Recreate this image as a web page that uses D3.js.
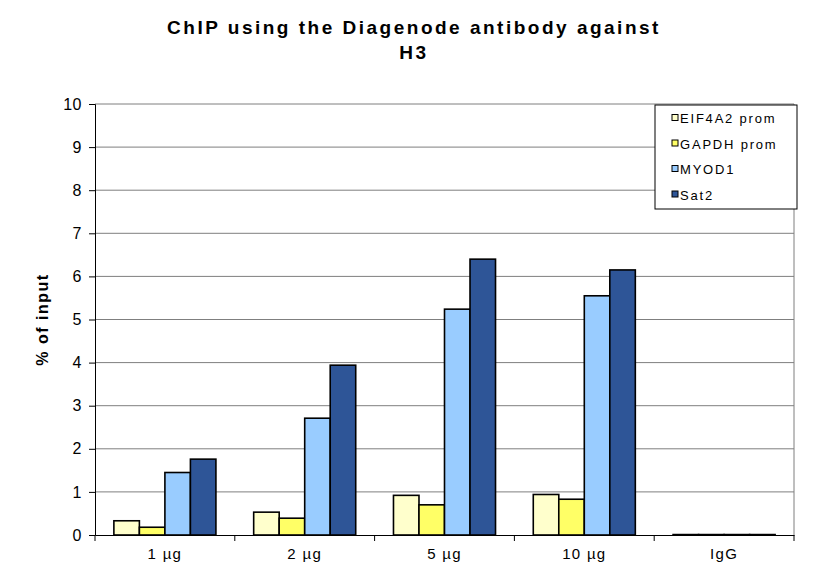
<!DOCTYPE html>
<html>
<head>
<meta charset="utf-8">
<script src="https://cdn.jsdelivr.net/npm/d3@7"></script>
<style>
  body { margin: 0; background: #fff; }
  text { font-family: "Liberation Sans", Arial, sans-serif; }
</style>
</head>
<body>
<div id="chart"></div>
<script>
const categories = ["1 µg", "2 µg", "5 µg", "10 µg", "IgG"];
const seriesNames = ["EIF4A2 prom", "GAPDH prom", "MYOD1", "Sat2"];
const seriesColors = ["#ffffcc", "#ffff66", "#99ccff", "#2e5597"];
const eif4a2 = [0.33, 0.53, 0.92, 0.94, 0.01];
const gapdh = [0.18, 0.39, 0.70, 0.83, 0.01];
const myod1 = [1.45, 2.71, 5.24, 5.55, 0.01];
const sat2 = [1.76, 3.94, 6.40, 6.15, 0.01];
const yTicks = [0, 1, 2, 3, 4, 5, 6, 7, 8, 9, 10];

const values = [eif4a2, gapdh, myod1, sat2];
const width = 825, height = 573;
const margin = { top: 104, right: 31, bottom: 38, left: 95 };

const svg = d3.select("#chart").append("svg").attr("width", width).attr("height", height);

const x = d3.scaleBand().domain(categories).range([margin.left, width - margin.right]);
const xs = d3.scaleBand().domain(d3.range(4)).range([0, x.bandwidth()]).paddingOuter(0.74);
const y = d3.scaleLinear().domain([0, 10]).range([height - margin.bottom, margin.top]);

// gridlines
svg.append("g").selectAll("line")
  .data(yTicks.slice(1))
  .enter().append("line")
  .attr("x1", margin.left).attr("x2", width - margin.right)
  .attr("y1", d => y(d)).attr("y2", d => y(d))
  .attr("stroke", "#7f7f7f").attr("stroke-width", 1);

// plot area right border
svg.append("line")
  .attr("x1", width - margin.right).attr("x2", width - margin.right)
  .attr("y1", y(10)).attr("y2", y(0))
  .attr("stroke", "#7f7f7f");

// bars
values.forEach((vals, si) => {
  svg.append("g").selectAll("rect")
    .data(vals)
    .enter().append("rect")
    .attr("x", (d, i) => x(categories[i]) + xs(si))
    .attr("width", xs.bandwidth())
    .attr("y", d => y(d))
    .attr("height", d => y(0) - y(d))
    .attr("fill", seriesColors[si])
    .attr("stroke", "#000")
    .attr("stroke-width", 1.6);
});

// y axis
const yAxis = svg.append("g")
  .attr("transform", `translate(${margin.left},0)`)
  .call(d3.axisLeft(y).tickValues(yTicks).tickSize(6).tickPadding(7).tickFormat(d3.format("d")));
yAxis.select(".domain").attr("stroke", "#000");
yAxis.selectAll("text").attr("font-size", 16).attr("fill", "#000").attr("letter-spacing", 0.5);

// x axis
const xAxis = svg.append("g")
  .attr("transform", `translate(0,${y(0)})`)
  .call(d3.axisBottom(x).tickSize(0).tickPadding(13));
xAxis.select(".domain").attr("stroke", "#000").attr("stroke-width", 1.2);
xAxis.selectAll("text").attr("font-size", 15).attr("fill", "#000").attr("letter-spacing", 1.3);
xAxis.append("g").selectAll("line")
  .data(d3.range(categories.length + 1))
  .enter().append("line")
  .attr("x1", i => margin.left + i * x.step()).attr("x2", i => margin.left + i * x.step())
  .attr("y1", 0).attr("y2", 6)
  .attr("stroke", "#000");

// y label
svg.append("text")
  .attr("transform", `translate(48,${(y(0) + y(10)) / 2}) rotate(-90)`)
  .attr("text-anchor", "middle")
  .attr("font-size", 16).attr("font-weight", "bold").attr("letter-spacing", 1.5)
  .text("% of input");

// title
const title = svg.append("text")
  .attr("x", 414).attr("y", 34)
  .attr("text-anchor", "middle")
  .attr("font-size", 19).attr("font-weight", "bold").attr("letter-spacing", 2.5);
title.append("tspan").attr("x", 414).text("ChIP using the Diagenode antibody against");
title.append("tspan").attr("x", 414).attr("dy", 25).text("H3");

// legend
const legend = svg.append("g").attr("transform", "translate(655,105)");
legend.append("rect")
  .attr("width", 142).attr("height", 104)
  .attr("fill", "#fff").attr("stroke", "#000");
seriesNames.forEach((name, i) => {
  const row = legend.append("g").attr("transform", `translate(17,${13 + i * 25.5})`);
  row.append("rect")
    .attr("x", 0).attr("y", -3.5).attr("width", 6).attr("height", 6)
    .attr("fill", seriesColors[i]).attr("stroke", "#000");
  row.append("text")
    .attr("x", 8).attr("y", 5)
    .attr("font-size", 13).attr("letter-spacing", 1.8)
    .text(name);
});
</script>
</body>
</html>
